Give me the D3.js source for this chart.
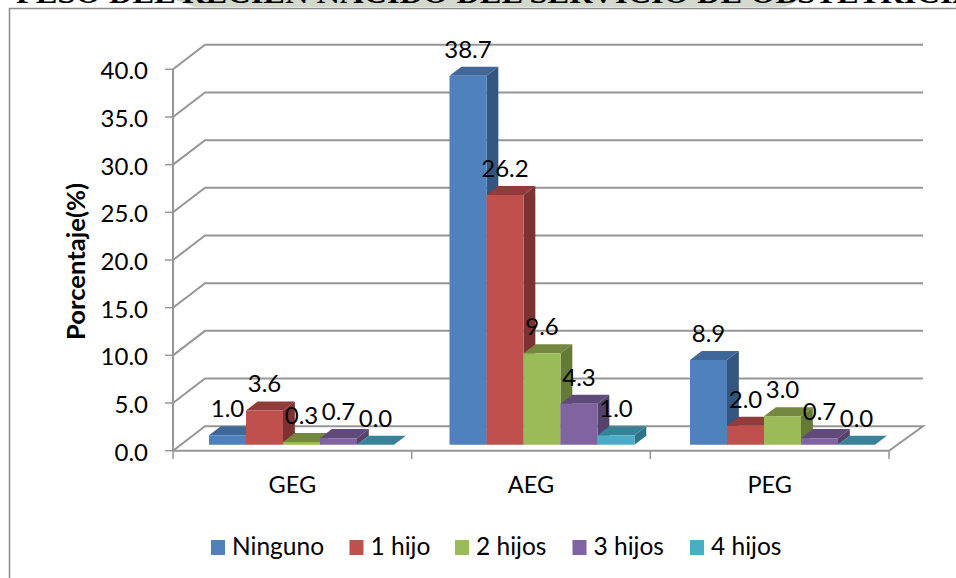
<!DOCTYPE html>
<html>
<head>
<meta charset="utf-8">
<script src="https://cdn.jsdelivr.net/npm/d3@7"></script>
<style>
html,body{margin:0;padding:0;background:#fff;overflow:hidden}
svg{display:block}
text{font-family:Lato,"Open Sans",sans-serif;fill:#000}
</style>
</head>
<body>
<svg id="chart" width="956" height="578"></svg>
<script>
// Birth-weight groups by number of previous children
const categories = ["GEG", "AEG", "PEG"];
const seriesNames = ["Ninguno", "1 hijo", "2 hijos", "3 hijos", "4 hijos"];
const ninguno = [1.0, 38.7, 8.9];
const unHijo = [3.6, 26.2, 2.0];
const dosHijos = [0.3, 9.6, 3.0];
const tresHijos = [0.7, 4.3, 0.7];
const cuatroHijos = [0.0, 1.0, 0.0];
const seriesValues = [ninguno, unHijo, dosHijos, tresHijos, cuatroHijos];
const yTicks = [0, 5, 10, 15, 20, 25, 30, 35, 40];
const titleText = "PESO DEL RECIEN NACIDO DEL SERVICIO DE OBSTETRICIA";

const faceColors = ["#4f81bd", "#c0504d", "#9bbb59", "#8064a2", "#4bacc6"];
const topColors = ["#3f6797", "#8f3c3a", "#74893f", "#5f4a7a", "#378296"];
const sideColors = ["#34557f", "#7c3230", "#667a38", "#54416c", "#2f7486"];

const svg = d3.select("#chart");

// Oblique projection: depth 0 is the front of the floor, depth 1 the back wall
const depthX = 32, depthY = 24.5;
const x = d3.scaleBand().domain(categories).range([173, 889]);
const y = d3.scaleLinear().domain([0, 40]).range([450.7, 69.3]);
const groupX = d3.scalePoint().domain(categories).range([209, 690]);
const serie = d3.scaleBand().domain(seriesNames).range([0, 185]);
const px = (xv, d) => xv + depthX * d;
const py = (v, d) => y(v) - depthY * d;

// Scrap of the page heading running along the top edge
svg.append("path").attr("d", "M175,0 L800,0 L785,7 L195,7 Z").attr("fill", "#d3d9cc");
svg.append("text").attr("x", 16).attr("y", 3)
  .style("font-family", "'Liberation Serif',serif").style("font-weight", "700")
  .style("font-size", "30px").attr("textLength", 960).attr("lengthAdjust", "spacingAndGlyphs")
  .text(titleText);

// Chart frame, open past the right and bottom edges
svg.append("rect").attr("x", 9.5).attr("y", 8.5).attr("width", 960).attr("height", 590)
  .attr("fill", "#fff").attr("stroke", "#8c8c8c").attr("stroke-width", 1.5);

const line = d3.line();
const grid = svg.append("g").attr("fill", "none").attr("stroke", "#969696").attr("stroke-width", 2);

// Gridlines folding from the left wall on to the back wall
grid.selectAll("path.grid").data(yTicks.slice(1)).join("path").attr("class", "grid")
  .attr("d", v => line([[px(173, 0), py(v, 0)], [px(173, 1), py(v, 1)], [px(889, 1) + 2, py(v, 1)]]));

// Floor outline
grid.append("path").attr("d", line([
  [px(173, 0), py(0, 0)], [px(173, 1), py(0, 1)], [px(889, 1) + 2, py(0, 1)], [px(889, 0), py(0, 0)], [px(173, 0), py(0, 0)]
])).attr("fill", "#fff");

// Vertical axis line
grid.append("path").attr("d", line([[px(173, 0), py(0, 0)], [px(173, 0), py(40, 0)]]));

// Y axis ticks and labels
const yAxis = svg.append("g");
yAxis.selectAll("line").data(yTicks).join("line")
  .attr("x1", 165).attr("x2", 173).attr("y1", d => y(d)).attr("y2", d => y(d))
  .attr("stroke", "#969696").attr("stroke-width", 1.5);
yAxis.selectAll("text").data(yTicks).join("text")
  .attr("x", 148).attr("y", d => y(d) + 10).attr("text-anchor", "end")
  .style("font-size", "24px").text(d => d.toFixed(1));

// X axis ticks and labels
const xEdges = categories.map(c => x(c)).concat(x.range()[1]);
svg.append("g").selectAll("line").data(xEdges).join("line")
  .attr("x1", d => d).attr("x2", d => d).attr("y1", 450.7).attr("y2", 459)
  .attr("stroke", "#969696").attr("stroke-width", 1.5);
svg.append("g").selectAll("text").data(categories).join("text")
  .attr("x", d => x(d) + x.bandwidth() / 2).attr("y", 493).attr("text-anchor", "middle")
  .style("font-size", "23.5px").text(d => d);

// Y axis title
svg.append("text").attr("transform", "translate(85,261.5) rotate(-90)").attr("text-anchor", "middle")
  .attr("textLength", 157).attr("lengthAdjust", "spacingAndGlyphs")
  .style("font-size", "25px").style("font-weight", "700").text("Porcentaje(%)");

// 3D bars: each is drawn side, top, then front face
const depthFront = 0.24, depthBack = 0.61;
const bars = [];
categories.forEach((c, ci) => seriesNames.forEach((s, si) => {
  bars.push({c, si, s, v: seriesValues[si][ci], x0: groupX(c) - depthX * depthFront + serie(s)});
}));
const barG = svg.append("g").selectAll("g").data(bars).join("g");
const w = serie.bandwidth();
const poly = pts => line(pts) + "Z";
barG.append("path").attr("fill", d => sideColors[d.si]).attr("d", d => poly([
  [px(d.x0 + w, depthFront), py(0, depthFront)], [px(d.x0 + w, depthBack), py(0, depthBack)],
  [px(d.x0 + w, depthBack), py(d.v, depthBack)], [px(d.x0 + w, depthFront), py(d.v, depthFront)]
]));
barG.append("path").attr("fill", d => topColors[d.si]).attr("d", d => poly([
  [px(d.x0, depthFront), py(d.v, depthFront)], [px(d.x0 + w, depthFront), py(d.v, depthFront)],
  [px(d.x0 + w, depthBack), py(d.v, depthBack)], [px(d.x0, depthBack), py(d.v, depthBack)]
]));
barG.append("path").attr("fill", d => faceColors[d.si]).attr("d", d => poly([
  [px(d.x0, depthFront), py(0, depthFront)], [px(d.x0 + w, depthFront), py(0, depthFront)],
  [px(d.x0 + w, depthFront), py(d.v, depthFront)], [px(d.x0, depthFront), py(d.v, depthFront)]
]));

// Value labels sit above each bar's top face
svg.append("g").selectAll("text").data(bars).join("text")
  .attr("x", d => px(d.x0 + w / 2, depthFront))
  .attr("y", d => py(d.v, depthBack) - 9)
  .attr("text-anchor", "middle").style("font-size", "24px")
  .text(d => d.v.toFixed(1));

// Legend
const legendX = [211, 349.5, 455, 572.5, 690];
const legend = svg.append("g").selectAll("g").data(seriesNames).join("g")
  .attr("transform", (d, i) => `translate(${legendX[i]},540)`);
legend.append("rect").attr("width", 14).attr("height", 15).attr("fill", (d, i) => faceColors[i]);
legend.append("text").attr("x", 21).attr("y", 15).style("font-size", "24.5px").text(d => d);
</script>
</body>
</html>
